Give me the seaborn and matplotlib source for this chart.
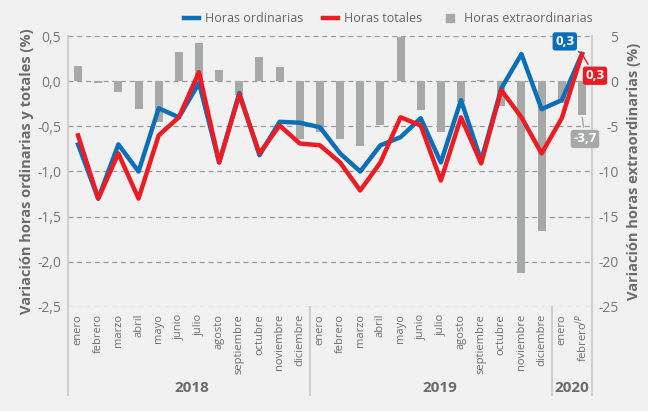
import numpy as np
import pandas as pd
import matplotlib
matplotlib.use("Agg")
import matplotlib.pyplot as plt
import matplotlib.transforms as mtransforms
import seaborn as sns

# ---- data ----
months = ["enero", "febrero", "marzo", "abril", "mayo", "junio", "julio", "agosto",
          "septiembre", "octubre", "noviembre", "diciembre",
          "enero", "febrero", "marzo", "abril", "mayo", "junio", "julio", "agosto",
          "septiembre", "octubre", "noviembre", "diciembre",
          "enero", "febrero$^{/P}$"]
years = ["2018", "2019", "2020"]
year_counts = [12, 12, 2]
ordinarias = [-0.7, -1.3, -0.7, -1.0, -0.3, -0.4, -0.02, -0.9, -0.13, -0.82, -0.45, -0.46,
              -0.51, -0.8, -1.0, -0.71, -0.62, -0.41, -0.9, -0.21, -0.88, -0.08, 0.3, -0.31,
              -0.21, 0.3]
totales = [-0.6, -1.3, -0.8, -1.3, -0.6, -0.4, 0.1, -0.9, -0.15, -0.8, -0.49, -0.69,
           -0.71, -0.9, -1.21, -0.9, -0.4, -0.49, -1.1, -0.4, -0.91, -0.1, -0.4, -0.8,
           -0.41, 0.3]
extraordinarias = [1.7, -0.2, -1.2, -3.1, -4.5, 3.2, 4.2, 1.2, -1.5, 2.7, 1.6, -6.4,
                   -5.6, -6.4, -7.2, -4.9, 4.9, -3.2, -5.6, -2.3, 0.1, -2.8, -21.2, -16.6,
                   -2.4, -3.7]
left_ticks = [0.5, 0.0, -0.5, -1.0, -1.5, -2.0, -2.5]
left_tick_labels = ["0,5", "0,0", "-0,5", "-1,0", "-1,5", "-2,0", "-2,5"]
right_ticks = [5, 0, -5, -10, -15, -20, -25]
right_tick_labels = ["5", "0", "-5", "-10", "-15", "-20", "-25"]

BLUE = "#0a6fb7"
RED = "#ec1c24"
GREY = "#a7a9a9"
TXT = "#6b6b6b"
BG = "#f1f1f1"

df = pd.DataFrame({"idx": np.arange(len(months)), "ord": ordinarias,
                   "tot": totales, "ext": extraordinarias})

plt.rcParams["font.family"] = ["Open Sans", "DejaVu Sans"]
fig = plt.figure(figsize=(6.48, 4.11), dpi=100, facecolor=BG)
ax = fig.add_axes([68/648, 1-307/411, (592-68)/648, (307-36)/411])
ax2 = ax.twinx()

# bars on the right axis
sns.barplot(data=df, x="idx", y="ext", ax=ax2, color=GREY, width=0.4,
            native_scale=True, saturation=1, zorder=2)
ax2.set_ylim(-25, 5)
ax2.set_yticks(right_ticks)
ax2.set_yticklabels(right_tick_labels, ha="right")
ax2.grid(axis="y", linestyle=(0, (4, 3)), color="#9a9a9a", lw=0.9, zorder=0)
ax2.set_axisbelow(True)
ax2.set_ylabel("Variación horas extraordinarias (%)", color=TXT, fontsize=10.5,
               fontweight="bold", labelpad=6)
ax2.tick_params(axis="y", length=0, labelsize=10, labelcolor="#777777", pad=19)

# lines on the left axis
sns.lineplot(data=df, x="idx", y="ord", ax=ax, color=BLUE, lw=3.2, zorder=3)
sns.lineplot(data=df, x="idx", y="tot", ax=ax, color=RED, lw=3.2, zorder=4)
ax.set_zorder(ax2.get_zorder() + 1)
ax.patch.set_visible(False)
ax.set_ylim(-2.5, 0.5)
ax.set_xlim(-0.5, len(months) - 0.5)
ax.set_yticks(left_ticks)
ax.set_yticklabels(left_tick_labels)
ax.set_ylabel("Variación horas ordinarias y totales (%)", color=TXT, fontsize=10.5,
              fontweight="bold", labelpad=2)
ax.tick_params(axis="y", length=0, labelsize=10, labelcolor="#777777", pad=5)
ax.set_xticks(np.arange(len(months)))
ax.set_xticklabels(months, rotation=90, fontsize=8, color="#6f6f6f", va="top")
ax.tick_params(axis="x", length=0, pad=5)
ax.set_xlabel("")

for a in (ax, ax2):
    for s in ("top", "bottom", "left", "right"):
        a.spines[s].set_visible(False)
ax2.spines["right"].set_visible(True)
ax2.spines["right"].set_color("#cfcfcf")
ax2.spines["right"].set_linewidth(1.5)
ax2.set_facecolor(BG)

# year separators and labels
trans = mtransforms.blended_transform_factory(ax.transData, ax.transAxes)
bounds = np.concatenate([[0], np.cumsum(year_counts)]) - 0.5
for b in bounds:
    ax.plot([b, b], [1.0 if b == bounds[0] else 0.0, -0.325], transform=trans,
            color="#cfcfcf", lw=1.5, clip_on=False, zorder=1)
year_pos = [5.65, 17.95, 24.5]
for y, xp in zip(years, year_pos):
    ax.text(xp, -0.3, y, transform=trans, ha="center", va="center",
            fontsize=11, fontweight="bold", color=TXT)

# annotations
ax.annotate("0,3", xy=(25, 0.3), xytext=(24.15, 0.44), color="white",
            fontsize=9.5, fontweight="bold", ha="center", va="center",
            bbox=dict(boxstyle="round,pad=0.2", fc=BLUE, ec="none"),
            arrowprops=dict(arrowstyle="-", color=BLUE, lw=1), zorder=6)
ax.annotate("0,3", xy=(25, 0.3), xytext=(25.65, 0.06), color="white",
            fontsize=9.5, fontweight="bold", ha="center", va="center",
            bbox=dict(boxstyle="round,pad=0.2", fc=RED, ec="none"),
            arrowprops=dict(arrowstyle="-", color=RED, lw=1), zorder=6,
            annotation_clip=False)
ax.annotate("-3,7", xy=(25, -0.37), xytext=(25.15, -0.64), color="white",
            fontsize=9.5, fontweight="bold", ha="center", va="center",
            bbox=dict(boxstyle="round,pad=0.2", fc=GREY, ec="none"),
            arrowprops=dict(arrowstyle="-", color=GREY, lw=1), zorder=6,
            annotation_clip=False)

# legend
from matplotlib.lines import Line2D
handles = [Line2D([0], [0], color=BLUE, lw=3.2),
           Line2D([0], [0], color=RED, lw=3.2),
           Line2D([0], [0], color=GREY, marker="s", lw=0, markersize=6)]
labels = ["Horas ordinarias", "Horas totales", "Horas extraordinarias"]
leg = fig.legend(handles, labels, loc="center", bbox_to_anchor=(388/648, 1-19/411),
                 ncol=3, frameon=False, fontsize=9, handlelength=1.2,
                 handletextpad=0.5, columnspacing=1.6)
for t in leg.get_texts():
    t.set_color("#666666")

fig.savefig("out.png", dpi=100, facecolor=BG)
